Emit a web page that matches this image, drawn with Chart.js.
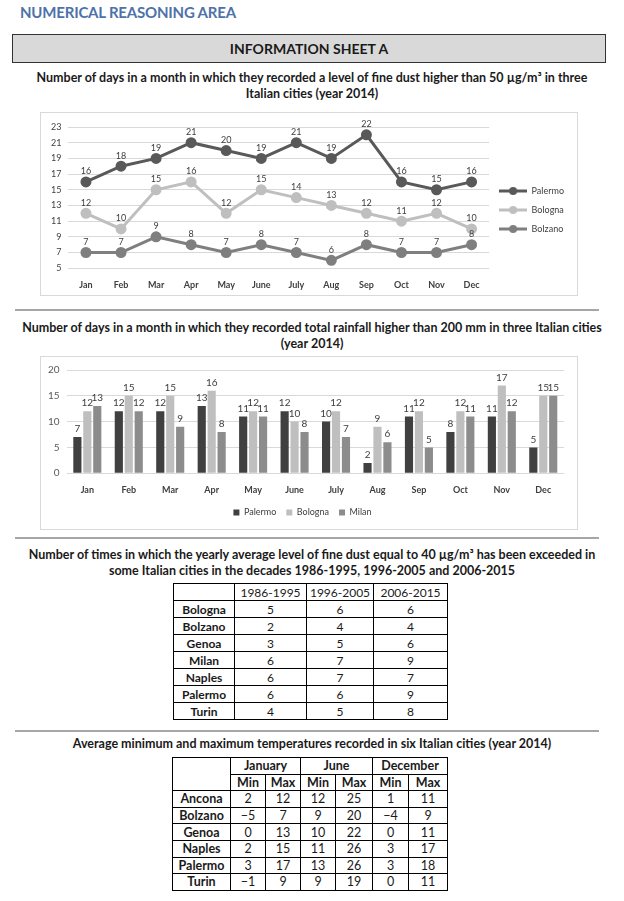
<!DOCTYPE html>
<html>
<head>
<meta charset="utf-8">
<script src="https://cdn.jsdelivr.net/npm/chart.js@4"></script>
<style>
  body { margin: 0; width: 624px; height: 901px; background: #fff; font-family: Lato, "Liberation Sans", sans-serif; color: #1a1a1a; position: relative; overflow: hidden; }
  .abs { position: absolute; }
  #head { left: 20px; top: 3px; font-size: 15px; font-weight: bold; color: #4d72a9; letter-spacing: -0.2px; }
  #sheet { left: 12px; top: 34px; width: 592px; height: 27px; background: #d9d9d9; border: 1px solid #333; text-align: center; line-height: 27px; font-weight: bold; font-size: 14px; }
  .title { left: 0; width: 624px; text-align: center; font-weight: bold; font-size: 12.5px; line-height: 16px; }
  .box { border: 1px solid #d9d9d9; }
  .sep { left: 15px; width: 584px; height: 2px; background: #a6a6a6; }
  table { position: absolute; border-collapse: collapse; font-size: 12.5px; }
  td { border: 1px solid #000; text-align: center; padding: 0; }
  td.city { font-weight: bold; }
  #t1 { font-size: 12px; }
  #t1 td { height: 16px; }
  #t2 td { height: 15.6px; }
</style>
</head>
<body>
<div id="head" class="abs">NUMERICAL REASONING AREA</div>
<div id="sheet" class="abs">INFORMATION SHEET A</div>

<div class="abs title" style="top:70px">Number of days in a month in which they recorded a level of fine dust higher than 50 µg/m³ in three<br>Italian cities (year 2014)</div>
<div class="abs box" style="left:40px; top:112px; width:536px; height:182px;"><canvas id="dustChart" width="536" height="182"></canvas></div>

<div class="abs sep" style="top:309px"></div>
<div class="abs title" style="top:320px">Number of days in a month in which they recorded total rainfall higher than 200 mm in three Italian cities<br>(year 2014)</div>
<div class="abs box" style="left:40px; top:356px; width:536px; height:172px;"><canvas id="rainChart" width="536" height="172"></canvas></div>

<div class="abs sep" style="top:537px"></div>
<div class="abs title" style="top:547px">Number of times in which the yearly average level of fine dust equal to 40 µg/m³ has been exceeded in<br>some Italian cities in the decades 1986-1995, 1996-2005 and 2006-2015</div>
<table id="t1" style="left:173px; top:583px;"></table>

<div class="abs sep" style="top:730px"></div>
<div class="abs title" style="top:736px">Average minimum and maximum temperatures recorded in six Italian cities (year 2014)</div>
<table id="t2" style="left:172px; top:757px;"></table>

<script>
// chart data
const months = ['Jan', 'Feb', 'Mar', 'Apr', 'May', 'June', 'July', 'Aug', 'Sep', 'Oct', 'Nov', 'Dec'];
const palermoDust = [16, 18, 19, 21, 20, 19, 21, 19, 22, 16, 15, 16];
const bolognaDust = [12, 10, 15, 16, 12, 15, 14, 13, 12, 11, 12, 10];
const bolzanoDust = [7, 7, 9, 8, 7, 8, 7, 6, 8, 7, 7, 8];

const palermoRain = [7, 12, 12, 13, 11, 12, 10, 2, 11, 8, 11, 5];
const bolognaRain = [12, 15, 15, 16, 12, 10, 12, 9, 12, 12, 17, 15];
const milanRain = [13, 12, 9, 8, 11, 8, 7, 6, 5, 11, 12, 15];

// table data
const decades = ['1986-1995', '1996-2005', '2006-2015'];
const dustCities = ['Bologna', 'Bolzano', 'Genoa', 'Milan', 'Naples', 'Palermo', 'Turin'];
const exceeded8695 = [5, 2, 3, 6, 6, 6, 4];
const exceeded9605 = [6, 4, 5, 7, 7, 6, 5];
const exceeded0615 = [6, 4, 6, 9, 7, 9, 8];

const tempMonths = ['January', 'June', 'December'];
const tempCities = ['Ancona', 'Bolzano', 'Genoa', 'Naples', 'Palermo', 'Turin'];
const janMin = ['2', '\u22125', '0', '2', '3', '\u22121'];
const janMax = [12, 7, 13, 15, 17, 9];
const junMin = [12, 9, 10, 11, 13, 9];
const junMax = [25, 20, 22, 26, 26, 19];
const decMin = ['1', '\u22124', '0', '3', '3', '0'];
const decMax = [11, 9, 11, 17, 18, 11];

const dark = '#595959', light = '#bfbfbf', mid = '#7f7f7f';

// writes each value above its point or bar
const valueLabels = {
    id: 'valueLabels',
    afterDatasetsDraw(chart, args, opts) {
        const ctx = chart.ctx;
        ctx.save();
        ctx.font = opts.font;
        ctx.fillStyle = opts.color;
        ctx.textAlign = 'center';
        ctx.textBaseline = 'bottom';
        chart.data.datasets.forEach((ds, i) => {
            chart.getDatasetMeta(i).data.forEach((el, j) => {
                ctx.fillText(ds.data[j], el.x, el.y - opts.offset);
            });
        });
        ctx.restore();
    }
};

function legendMarker(color) {
    const c = document.createElement('canvas');
    c.width = 28; c.height = 10;
    const g = c.getContext('2d');
    g.strokeStyle = color; g.lineWidth = 3;
    g.beginPath(); g.moveTo(0, 5); g.lineTo(28, 5); g.stroke();
    g.fillStyle = color;
    g.beginPath(); g.arc(14, 5, 4, 0, Math.PI * 2); g.fill();
    return c;
}

function lineSet(label, data, color) {
    return {
        label, data,
        borderColor: color, backgroundColor: color,
        borderWidth: 3, pointRadius: 4, pointHoverRadius: 4,
        pointStyle: 'circle', tension: 0
    };
}

new Chart(document.getElementById('dustChart'), {
    type: 'line',
    data: {
        labels: months,
        datasets: [
            lineSet('Palermo', palermoDust, dark),
            lineSet('Bologna', bolognaDust, light),
            lineSet('Bolzano', bolzanoDust, mid)
        ]
    },
    options: {
        responsive: false,
        animation: false,
        layout: { padding: { top: 14, left: 3, right: 3, bottom: 2 } },
        scales: {
            x: {
                offset: true,
                grid: { display: false },
                border: { display: false },
                ticks: { color: '#404040', font: { family: 'Lato', size: 9, weight: 'bold' } }
            },
            y: {
                min: 5, max: 23,
                ticks: { stepSize: 2, color: '#404040', font: { family: 'Lato', size: 9 }, padding: 7 },
                grid: { color: '#d9d9d9', drawTicks: false },
                border: { display: false }
            }
        },
        plugins: {
            legend: {
                position: 'right',
                labels: {
                    usePointStyle: true,
                    pointStyleWidth: 28,
                    boxHeight: 10,
                    padding: 10,
                    color: '#404040',
                    font: { family: 'Lato', size: 9 },
                    generateLabels: chart => chart.data.datasets.map((ds, i) => ({
                        text: ds.label,
                        pointStyle: legendMarker(ds.borderColor),
                        fontColor: '#404040',
                        datasetIndex: i
                    }))
                }
            },
            tooltip: { enabled: false },
            valueLabels: { font: '9px Lato', color: '#404040', offset: 6 }
        }
    },
    plugins: [valueLabels]
});

new Chart(document.getElementById('rainChart'), {
    type: 'bar',
    data: {
        labels: months,
        datasets: [
            { label: 'Palermo', data: palermoRain, backgroundColor: '#404040' },
            { label: 'Bologna', data: bolognaRain, backgroundColor: light },
            { label: 'Milan', data: milanRain, backgroundColor: '#8c8c8c' }
        ]
    },
    options: {
        responsive: false,
        animation: false,
        categoryPercentage: 0.72,
        barPercentage: 0.82,
        layout: { padding: { top: 12, left: 0, right: 13, bottom: 2 } },
        scales: {
            x: {
                grid: { display: false },
                border: { display: false },
                ticks: { color: '#404040', font: { family: 'Lato', size: 9, weight: 'bold' } }
            },
            y: {
                min: 0, max: 20,
                ticks: { stepSize: 5, color: '#595959', font: { family: 'Lato', size: 10 }, padding: 7 },
                grid: { color: '#d9d9d9', drawTicks: false },
                border: { display: false }
            }
        },
        plugins: {
            legend: {
                position: 'bottom',
                labels: { boxWidth: 6, boxHeight: 6, padding: 10, color: '#404040', font: { family: 'Lato', size: 9 } }
            },
            tooltip: { enabled: false },
            valueLabels: { font: '10px Lato', color: '#404040', offset: 3 }
        }
    },
    plugins: [valueLabels]
});

// tables
function cell(tr, text, cls, w, span) {
    const td = document.createElement('td');
    td.textContent = text;
    if (cls) td.className = cls;
    if (w) td.style.width = w + 'px';
    if (span) td.colSpan = span;
    tr.appendChild(td);
    return td;
}

const t1 = document.getElementById('t1');
let tr = t1.insertRow();
cell(tr, '', '', 60);
[71, 66, 73].forEach((w, i) => cell(tr, decades[i], '', w));
dustCities.forEach((c, i) => {
    tr = t1.insertRow();
    cell(tr, c, 'city');
    cell(tr, exceeded8695[i]);
    cell(tr, exceeded9605[i]);
    cell(tr, exceeded0615[i]);
});

const t2 = document.getElementById('t2');
tr = t2.insertRow();
const corner = cell(tr, '', '', 57);
corner.rowSpan = 2;
tempMonths.forEach(m => cell(tr, m, 'city', 0, 2));
tr = t2.insertRow();
[34, 34, 34, 36, 35, 38].forEach((w, i) => cell(tr, i % 2 ? 'Max' : 'Min', 'city', w));
tempCities.forEach((c, i) => {
    tr = t2.insertRow();
    cell(tr, c, 'city');
    [janMin, janMax, junMin, junMax, decMin, decMax].forEach(col => cell(tr, col[i]));
});
</script>
</body>
</html>
